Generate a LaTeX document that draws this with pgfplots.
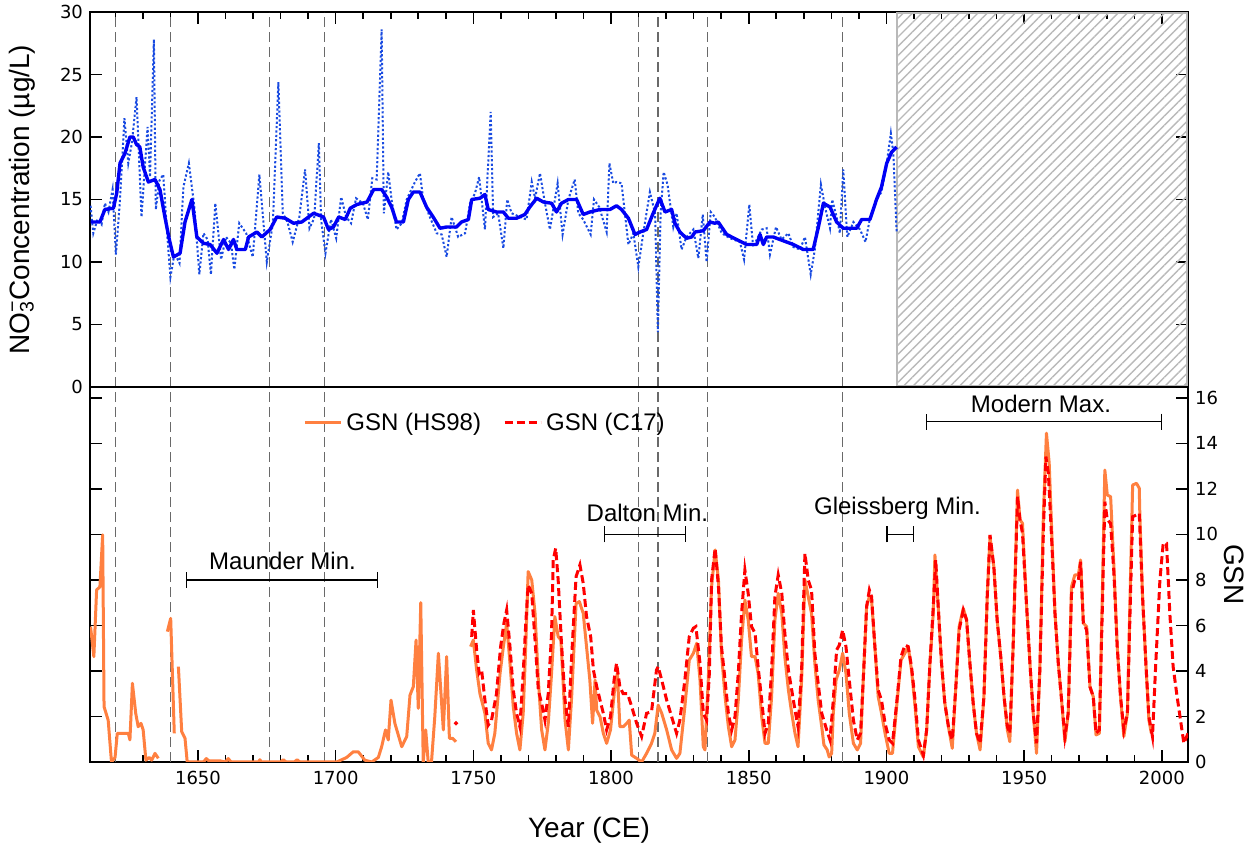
\documentclass[border=0pt]{standalone}
\usepackage{fontspec}
\setmainfont{Liberation Sans}
\newfontfamily\tickfont{DejaVu Sans}
\usepackage{pgfplots}
\pgfplotsset{compat=1.18}
\usepackage{pgfplotstable}
\usetikzlibrary{patterns.meta,arrows.meta}

\definecolor{nblue}{RGB}{0,0,245}
\definecolor{ndot}{RGB}{25,75,225}
\definecolor{hsorange}{RGB}{255,128,64}
\definecolor{cred}{RGB}{255,0,0}
\definecolor{vgray}{RGB}{105,105,105}
\definecolor{hatch}{RGB}{185,185,185}

% annual NO3 record
\pgfplotstableread{
year no3
1611.0 14.5
1612.0 12.3
1613.5 13.4
1615.0 13.0
1616.2 14.7
1617.5 14.0
1619.0 15.8
1620.2 10.6
1621.7 15.0
1623.3 21.5
1624.7 17.9
1626.0 19.5
1627.7 23.2
1629.5 13.6
1631.7 20.8
1632.6 16.8
1634.0 27.8
1634.7 14.2
1636.0 16.5
1637.4 17.0
1638.8 12.3
1640.0 8.8
1641.5 10.7
1643.3 9.9
1644.7 16.0
1646.7 17.9
1648.7 14.4
1650.5 9.0
1652.0 12.3
1653.5 11.8
1654.7 9.0
1656.3 14.7
1658.4 10.2
1660.2 12.0
1662.0 11.5
1663.2 9.4
1665.0 13.1
1667.5 12.3
1669.9 10.4
1672.3 17.0
1673.3 14.4
1675.0 10.0
1677.2 13.1
1679.2 24.4
1680.8 13.9
1682.5 13.2
1684.4 11.6
1686.8 13.6
1688.9 17.4
1690.5 12.7
1692.2 13.5
1693.9 19.5
1694.7 13.4
1696.3 10.7
1698.3 13.4
1700.2 11.9
1702.0 15.2
1703.8 13.6
1705.6 13.1
1707.4 15.1
1709.9 14.7
1711.7 13.4
1713.3 16.7
1714.9 16.6
1716.7 28.6
1717.5 13.9
1719.1 17.2
1720.3 15.0
1722.1 12.6
1724.0 13.1
1725.8 15.0
1728.8 16.4
1730.6 17.1
1731.8 15.0
1734.2 13.6
1736.7 12.3
1738.5 12.2
1740.3 10.4
1742.1 13.6
1744.5 12.0
1747.0 12.3
1748.8 14.7
1750.6 15.5
1752.1 16.8
1754.2 12.6
1756.3 22.0
1757.2 13.6
1759.0 13.9
1760.9 11.1
1762.3 15.0
1763.9 13.9
1766.9 13.6
1769.3 13.4
1771.2 16.4
1772.4 15.1
1774.2 17.1
1776.0 14.7
1777.8 12.6
1780.6 16.3
1782.4 12.2
1784.5 15.0
1786.8 16.6
1788.1 13.9
1789.9 13.4
1792.6 12.2
1793.8 15.0
1795.7 14.4
1798.4 12.4
1799.4 17.9
1800.8 16.3
1802.0 16.4
1803.8 16.3
1806.3 11.4
1808.1 12.3
1809.9 9.6
1811.7 12.3
1814.1 15.6
1816.0 13.9
1817.0 4.4
1818.0 13.9
1819.1 17.2
1820.5 16.2
1822.6 12.8
1823.8 13.9
1825.6 11.0
1827.4 12.0
1829.9 12.6
1831.7 10.3
1833.3 13.8
1834.7 10.0
1836.2 14.0
1837.7 13.6
1840.2 12.3
1843.2 11.9
1846.8 11.6
1848.3 10.2
1850.2 14.6
1851.6 11.2
1854.7 12.6
1856.5 12.7
1857.7 10.6
1859.9 12.8
1861.9 11.8
1864.4 12.3
1866.2 11.2
1868.6 11.0
1870.4 12.0
1872.5 9.0
1874.0 11.0
1876.2 16.2
1877.7 14.4
1879.5 12.7
1880.3 15.0
1881.9 13.6
1883.1 12.3
1884.3 17.4
1885.8 12.0
1888.0 13.2
1890.4 12.6
1892.4 11.6
1894.0 13.5
1896.4 15.0
1898.2 15.6
1900.1 17.9
1901.6 20.3
1902.5 18.7
1903.7 12.4
}\annualdata

% smoothed NO3
\pgfplotstableread{
year no3
1611.0 13.2
1614.4 13.2
1616.2 14.2
1619.3 14.3
1620.5 15.5
1621.7 17.9
1623.5 18.7
1625.3 20.0
1626.5 20.0
1627.7 19.4
1628.9 19.2
1630.1 17.6
1632.0 16.4
1634.4 16.6
1636.2 15.8
1638.0 13.6
1639.6 11.8
1641.1 10.4
1643.5 10.7
1645.3 13.2
1647.8 15.0
1649.6 12.0
1652.0 11.5
1654.4 11.4
1656.9 10.7
1659.3 11.8
1661.1 11.0
1662.9 11.8
1664.1 11.0
1667.2 11.0
1668.4 12.0
1671.4 12.4
1673.2 12.0
1676.2 12.6
1678.6 13.6
1681.7 13.5
1684.7 13.1
1687.7 13.2
1692.0 13.9
1695.6 13.6
1697.4 12.6
1699.2 12.8
1701.1 13.6
1703.5 13.4
1705.3 14.3
1707.7 14.6
1711.4 14.8
1713.8 15.8
1716.7 15.8
1718.5 15.2
1720.3 14.4
1722.1 13.2
1724.6 13.2
1726.4 15.0
1728.2 15.6
1730.6 15.6
1733.0 14.4
1735.4 13.6
1737.9 12.7
1740.3 12.8
1743.9 12.8
1745.7 13.2
1748.2 13.4
1749.4 15.0
1752.4 15.1
1754.2 15.4
1755.4 14.2
1758.4 14.0
1760.9 14.0
1762.7 13.5
1765.7 13.5
1768.7 13.8
1770.5 14.4
1773.0 15.1
1775.4 14.8
1778.4 14.7
1780.2 14.0
1782.0 14.7
1784.5 15.0
1787.5 15.0
1789.9 13.8
1792.3 14.0
1796.0 14.2
1799.6 14.2
1802.0 14.5
1803.8 14.2
1806.3 13.5
1808.7 12.2
1810.5 12.4
1812.9 12.6
1815.3 13.9
1817.7 15.1
1819.6 14.0
1822.0 14.2
1823.2 13.1
1825.0 12.4
1827.4 11.9
1829.3 12.0
1830.5 12.4
1833.5 12.5
1835.9 13.2
1837.7 13.1
1838.9 13.2
1842.0 12.2
1845.6 11.8
1849.2 11.4
1852.9 11.4
1854.1 12.2
1855.3 11.4
1856.5 12.0
1858.9 12.0
1862.5 11.7
1866.2 11.4
1869.8 11.0
1873.4 11.0
1875.3 12.8
1877.1 14.7
1879.5 14.4
1881.9 13.2
1884.3 12.7
1889.2 12.7
1891.0 13.4
1894.0 13.4
1896.4 15.0
1898.2 16.0
1900.1 17.9
1901.9 18.8
1903.7 19.2
}\smoothdata

% GSN (HS98), nan marks gaps
\pgfplotstableread{
year gsn
1611.0 5.95
1612.2 4.63
1613.2 7.56
1614.4 7.70
1615.4 9.98
1615.9 2.43
1617.4 1.84
1618.6 0.00
1619.9 0.20
1620.7 1.26
1624.7 1.26
1625.3 0.97
1626.2 3.46
1627.4 2.14
1628.3 1.55
1629.3 1.70
1630.1 1.41
1631.1 0.08
1632.3 0.20
1633.2 0.08
1634.4 0.38
1635.6 0.16
1637.0 nan
1638.9 5.73
1640.1 6.31
1641.4 1.26
1642.0 nan
1642.9 4.19
1644.1 1.33
1645.3 1.04
1646.1 0.00
1652.0 0.00
1653.0 0.15
1654.0 0.05
1658.0 0.05
1660.0 0.00
1661.0 0.15
1662.0 0.00
1672.0 0.00
1672.5 0.10
1673.0 0.00
1680.0 0.00
1681.0 0.10
1682.0 0.00
1685.0 0.00
1686.0 0.10
1687.0 0.00
1700.4 0.00
1704.0 0.20
1706.4 0.45
1708.2 0.45
1710.6 0.08
1713.1 0.00
1715.5 0.20
1716.7 0.67
1718.1 1.41
1719.1 0.97
1720.1 2.72
1721.5 1.70
1724.0 0.67
1725.8 1.12
1727.0 2.94
1728.2 3.31
1729.2 5.36
1730.0 2.36
1730.9 7.00
1731.8 0.00
1732.7 1.41
1733.6 0.00
1734.8 0.00
1736.0 1.99
1737.3 4.78
1739.1 1.41
1740.3 4.63
1741.3 1.04
1742.5 1.04
1743.7 0.89
1746.0 nan
1749.0 5.07
1750.0 5.36
1751.2 4.04
1752.4 3.00
1754.2 2.14
1755.4 0.82
1756.6 0.53
1757.8 1.26
1759.7 3.90
1760.9 5.07
1762.1 6.10
1763.3 4.34
1764.5 2.43
1765.7 1.26
1766.9 0.53
1768.1 2.14
1769.1 5.36
1769.9 8.37
1771.2 8.00
1772.4 6.53
1773.6 3.60
1774.8 1.41
1776.0 0.53
1777.2 1.70
1778.4 3.90
1779.6 6.39
1780.8 5.51
1781.8 5.36
1783.3 1.84
1784.5 0.53
1785.7 2.87
1787.3 6.97
1788.5 7.05
1789.9 6.53
1791.1 5.07
1792.3 3.60
1793.3 1.70
1794.2 3.60
1794.8 2.28
1796.0 1.99
1797.2 1.26
1798.4 0.82
1799.8 1.41
1801.4 3.31
1802.3 3.90
1803.2 1.55
1804.4 1.55
1805.7 1.70
1806.6 1.84
1807.5 0.30
1809.3 0.16
1811.1 0.00
1812.9 0.38
1814.7 0.82
1815.9 1.26
1817.1 2.50
1818.4 2.14
1820.2 1.41
1822.0 0.53
1823.8 0.16
1825.0 0.38
1826.8 2.43
1828.4 4.48
1829.9 4.78
1831.1 5.22
1832.3 3.60
1833.5 0.67
1834.1 0.53
1835.3 3.60
1836.5 7.70
1837.8 9.32
1839.0 8.00
1840.1 4.78
1841.4 2.87
1842.6 1.55
1843.8 0.67
1845.0 0.97
1846.2 2.72
1847.4 5.36
1848.6 7.12
1849.8 6.24
1851.0 4.63
1852.3 4.63
1853.4 3.90
1854.7 1.99
1855.9 0.82
1857.1 0.82
1858.3 2.87
1859.5 6.24
1860.7 7.41
1862.0 6.53
1863.1 4.63
1864.4 3.16
1865.6 2.14
1866.8 1.26
1867.9 0.67
1869.2 3.60
1870.4 8.00
1871.6 7.27
1872.8 6.53
1874.0 4.34
1875.2 2.72
1876.5 1.55
1877.3 0.75
1878.5 0.53
1879.2 0.22
1880.1 0.38
1880.7 2.14
1881.7 3.60
1882.9 4.04
1884.1 4.78
1885.3 3.90
1886.5 2.14
1888.0 0.82
1889.4 0.53
1890.6 0.82
1891.8 4.19
1892.8 6.83
1893.8 7.27
1894.6 7.12
1895.8 5.07
1897.0 2.87
1898.2 2.14
1899.5 1.26
1901.0 0.38
1902.2 0.38
1903.7 2.43
1905.3 4.48
1906.7 4.78
1907.9 5.07
1909.1 4.04
1910.4 2.43
1911.6 0.67
1913.4 0.22
1914.6 1.41
1915.8 4.34
1917.0 6.53
1917.6 9.10
1918.8 6.83
1920.0 4.34
1921.2 2.58
1922.7 1.41
1923.9 0.60
1925.2 3.31
1926.4 5.95
1927.9 6.75
1929.1 6.24
1930.3 4.34
1931.5 2.58
1932.7 1.26
1934.0 0.53
1935.4 2.87
1936.6 7.27
1937.6 9.90
1939.0 8.58
1940.2 6.24
1941.5 4.63
1942.7 2.87
1943.9 1.41
1944.8 0.89
1946.0 5.07
1947.0 9.46
1947.6 11.95
1948.5 10.64
1949.4 10.49
1950.7 7.27
1952.1 4.34
1953.3 2.14
1954.5 0.38
1955.7 4.04
1957.0 10.93
1958.1 14.45
1959.1 13.13
1960.0 10.20
1961.2 6.53
1962.4 4.34
1963.6 2.72
1964.8 0.89
1966.0 2.14
1967.2 7.70
1968.4 8.22
1969.7 8.22
1970.5 8.88
1971.5 6.10
1972.7 5.95
1973.9 3.31
1975.1 2.87
1976.1 1.19
1977.3 1.26
1978.5 8.00
1979.3 12.83
1980.2 11.73
1981.4 11.66
1982.6 8.58
1983.8 5.07
1985.0 2.87
1986.2 1.12
1987.5 2.14
1988.6 8.00
1989.4 12.17
1990.8 12.25
1991.8 12.03
1992.0 10.93
1993.0 7.27
1994.2 4.34
1995.3 1.84
1996.2 1.26
}\hsdata

% GSN (C17)
\pgfplotstableread{
year gsn
1749.4 5.50
1750.0 6.68
1751.2 4.92
1752.1 3.90
1753.0 4.04
1754.2 2.72
1755.4 1.62
1756.6 1.84
1758.4 3.00
1759.9 5.07
1761.1 6.10
1762.1 6.68
1763.3 5.07
1764.5 3.16
1765.7 2.14
1766.9 1.55
1768.1 3.90
1769.1 6.24
1769.9 7.78
1771.2 7.41
1772.4 5.36
1773.6 3.16
1774.8 2.58
1776.0 1.84
1777.2 3.00
1778.4 5.66
1779.0 8.88
1779.9 9.39
1780.8 8.00
1782.0 5.22
1783.3 2.72
1784.5 1.55
1785.7 4.63
1787.3 8.15
1788.7 8.66
1789.9 7.85
1791.1 6.39
1792.6 5.51
1793.6 4.04
1794.8 3.31
1796.0 2.72
1797.2 2.14
1798.4 1.41
1799.8 1.99
1801.1 3.60
1802.0 4.34
1803.2 3.31
1804.4 3.00
1806.0 3.00
1807.5 2.43
1809.3 1.70
1811.1 1.12
1812.9 2.14
1814.7 2.21
1816.5 4.04
1817.1 4.19
1818.4 3.60
1820.2 2.72
1822.0 1.99
1823.8 1.26
1825.0 1.84
1826.8 3.60
1828.4 5.51
1829.9 5.88
1830.8 5.95
1832.3 4.34
1833.5 2.14
1834.7 1.84
1835.7 3.90
1836.5 8.00
1837.8 9.39
1839.0 7.70
1840.1 5.07
1841.4 3.60
1842.6 2.14
1843.8 1.41
1845.0 1.99
1846.2 3.90
1847.4 6.53
1848.6 8.44
1849.8 7.41
1851.0 5.95
1852.3 5.66
1853.4 4.19
1854.7 2.72
1855.9 1.26
1857.1 1.70
1858.3 4.04
1859.5 7.27
1860.7 8.22
1862.0 7.41
1863.1 5.66
1864.4 4.04
1865.6 3.16
1866.8 2.28
1867.9 1.55
1869.2 4.04
1870.4 9.17
1871.6 8.00
1872.8 7.56
1874.0 4.78
1875.2 3.46
1876.5 2.14
1878.3 1.41
1879.5 0.97
1880.7 2.72
1881.9 4.92
1882.9 5.14
1884.1 5.80
1885.3 5.07
1886.5 3.60
1888.0 1.84
1889.4 0.97
1890.6 1.26
1891.8 4.19
1892.8 6.83
1893.8 7.56
1894.6 7.27
1895.8 5.07
1897.0 3.16
1898.2 2.72
1899.5 1.70
1901.0 0.97
1902.2 0.82
1903.7 2.58
1905.3 4.63
1906.7 5.14
1907.9 5.07
1909.1 4.19
1910.4 2.72
1911.6 0.97
1913.4 0.30
1914.6 1.41
1915.8 4.34
1917.0 6.83
1917.9 8.88
1918.8 6.83
1920.0 4.34
1921.2 2.58
1922.7 1.41
1923.9 0.97
1925.2 3.31
1926.4 5.80
1927.9 6.68
1929.1 6.24
1930.3 4.34
1931.5 2.58
1932.7 1.26
1934.0 0.82
1935.4 2.87
1936.6 7.27
1937.6 9.98
1939.0 8.58
1940.2 6.24
1941.5 4.63
1942.7 2.87
1943.9 1.55
1944.8 1.26
1946.0 5.07
1947.0 9.17
1947.6 11.66
1948.5 10.64
1949.4 10.05
1950.7 7.27
1952.1 4.34
1953.3 2.14
1954.5 0.82
1955.7 4.04
1957.0 10.20
1957.9 13.42
1958.8 12.69
1960.0 9.76
1961.2 6.53
1962.4 4.34
1963.6 2.72
1964.8 1.12
1966.0 2.14
1967.2 7.41
1968.4 8.00
1969.7 8.00
1970.5 8.80
1971.5 6.10
1972.7 5.80
1973.9 3.31
1975.1 2.87
1976.1 1.26
1977.3 1.41
1978.5 7.27
1979.3 11.44
1980.2 10.64
1981.4 10.49
1982.6 8.29
1983.8 5.07
1985.0 2.87
1986.2 1.41
1987.5 2.14
1988.6 7.27
1989.4 10.78
1990.8 10.86
1991.8 10.93
1993.0 7.27
1994.2 4.34
1995.3 1.99
1996.6 1.12
1997.8 4.34
1999.3 8.00
2000.5 9.61
2001.7 9.61
2002.9 6.53
2004.1 4.19
2005.4 3.00
2006.6 1.99
2008.0 0.82
2009.5 1.26
}\cdata

\pgfplotsset{
  panel/.style={
    scale only axis, width=549pt, height=187.5pt,
    xmin=1610.8, xmax=2009.5,
    axis line style={line width=1pt},
    every tick/.style={black, line width=0.8pt},
    tick align=inside,
    major tick length=6pt, minor tick length=3.5pt,
    xtick={1650,1700,...,2000},
    minor xtick={1620,1630,...,2000},
    tick label style={font=\tickfont\fontsize{9}{10}\selectfont},
    xticklabel style={yshift=-1pt},
    /pgf/number format/assume math mode=true,
    /pgf/number format/1000 sep={},
  },
  vline/.style={vgray, line width=0.65pt, dash pattern=on 5pt off 2.5pt, forget plot},
}

\begin{document}
\begin{tikzpicture}
\useasboundingbox (-45pt,-44.5pt) rectangle (584pt,381pt);

% upper panel: NO3
\begin{axis}[panel, name=top, at={(0,187.5pt)}, anchor=south west,
  ymin=0, ymax=30, ytick={0,5,...,30},
  xtick pos=right, xticklabels={},
  ytick pos=both, yticklabel pos=left]
  \foreach \yr in {1620,1640,1676,1696,1810,1817,1835,1884}{
    \edef\tmp{\noexpand\addplot[vline] coordinates {(\yr,0) (\yr,30)};}\tmp
  }
  \draw[hatch, line width=1pt, pattern={Lines[angle=45,distance=3.3pt,line width=0.7pt]}, pattern color=hatch]
    (axis cs:1904,0.1) rectangle (axis cs:2009.3,29.9);
  \addplot[ndot, line width=1pt, dash pattern=on 1.1pt off 1.1pt] table[x=year,y=no3] {\annualdata};
  \addplot[nblue, line width=1.7pt, line join=round] table[x=year,y=no3] {\smoothdata};
\end{axis}

% lower panel: GSN
\begin{axis}[panel, name=bot, at={(0,0)}, anchor=south west,
  ymin=0, ymax=16.48, ytick={0,2,...,16},
  xtick pos=left,
  ytick pos=both, yticklabel pos=right,
  unbounded coords=jump,
  legend style={at={(axis description cs:0.1885,0.904)}, anchor=west, draw=none, fill=none,
    font=\fontsize{12}{14}\selectfont, legend columns=2,
    /tikz/every even column/.append style={column sep=9pt}},
  legend image code/.code={\draw[#1] (0pt,0pt) -- (18pt,0pt);}]
  \foreach \yr in {1620,1640,1676,1696,1810,1817,1835,1884}{
    \edef\tmp{\noexpand\addplot[vline] coordinates {(\yr,0) (\yr,16.48)};}\tmp
  }
  \addplot[hsorange, line width=1.5pt, line join=round] table[x=year,y=gsn] {\hsdata};
  \addlegendentry{GSN (HS98)}
  \addplot[cred, line width=1.5pt, dash pattern=on 4pt off 2pt] table[x=year,y=gsn] {\cdata};
  \addlegendentry{GSN (C17)}
  \addplot[only marks, cred, mark=*, mark size=0.9pt, forget plot] coordinates {(1743.7,1.7)};

  \draw[line width=0.6pt, {Bar[width=8pt]}-{Bar[width=8pt]}] (axis cs:1645.6,8.0) -- (axis cs:1715.3,8.0);
  \draw[line width=0.6pt, {Bar[width=8pt]}-{Bar[width=8pt]}] (axis cs:1797.4,10.0) -- (axis cs:1827.2,10.0);
  \draw[line width=0.6pt, {Bar[width=8pt]}-{Bar[width=8pt]}] (axis cs:1900,10.0) -- (axis cs:1910,10.0);
  \draw[line width=0.6pt, {Bar[width=8pt]}-{Bar[width=8pt]}] (axis cs:1914.3,14.96) -- (axis cs:2000,14.96);
  \node[font=\fontsize{12}{14}\selectfont] at (axis cs:1680.7,8.84) {Maunder Min.};
  \node[font=\fontsize{12}{14}\selectfont] at (axis cs:1813.2,10.96) {Dalton Min.};
  \node[font=\fontsize{12}{14}\selectfont] at (axis cs:1904,11.16) {Gleissberg Min.};
  \node[font=\fontsize{12}{14}\selectfont] at (axis cs:1956.1,15.74) {Modern Max.};
\end{axis}

\node[rotate=90, font=\fontsize{14}{16}\selectfont] at ([xshift=-34pt]top.west)
  {NO\rlap{\textsuperscript{−}}\textsubscript{3}Concentration (µg/L)};
\node[rotate=-90, font=\fontsize{14}{16}\selectfont] at ([xshift=23pt]bot.east) {GSN};
\node[font=\fontsize{14}{16}\selectfont] at ([xshift=-25pt,yshift=-34pt]bot.south) {Year (CE)};
\end{tikzpicture}
\end{document}
